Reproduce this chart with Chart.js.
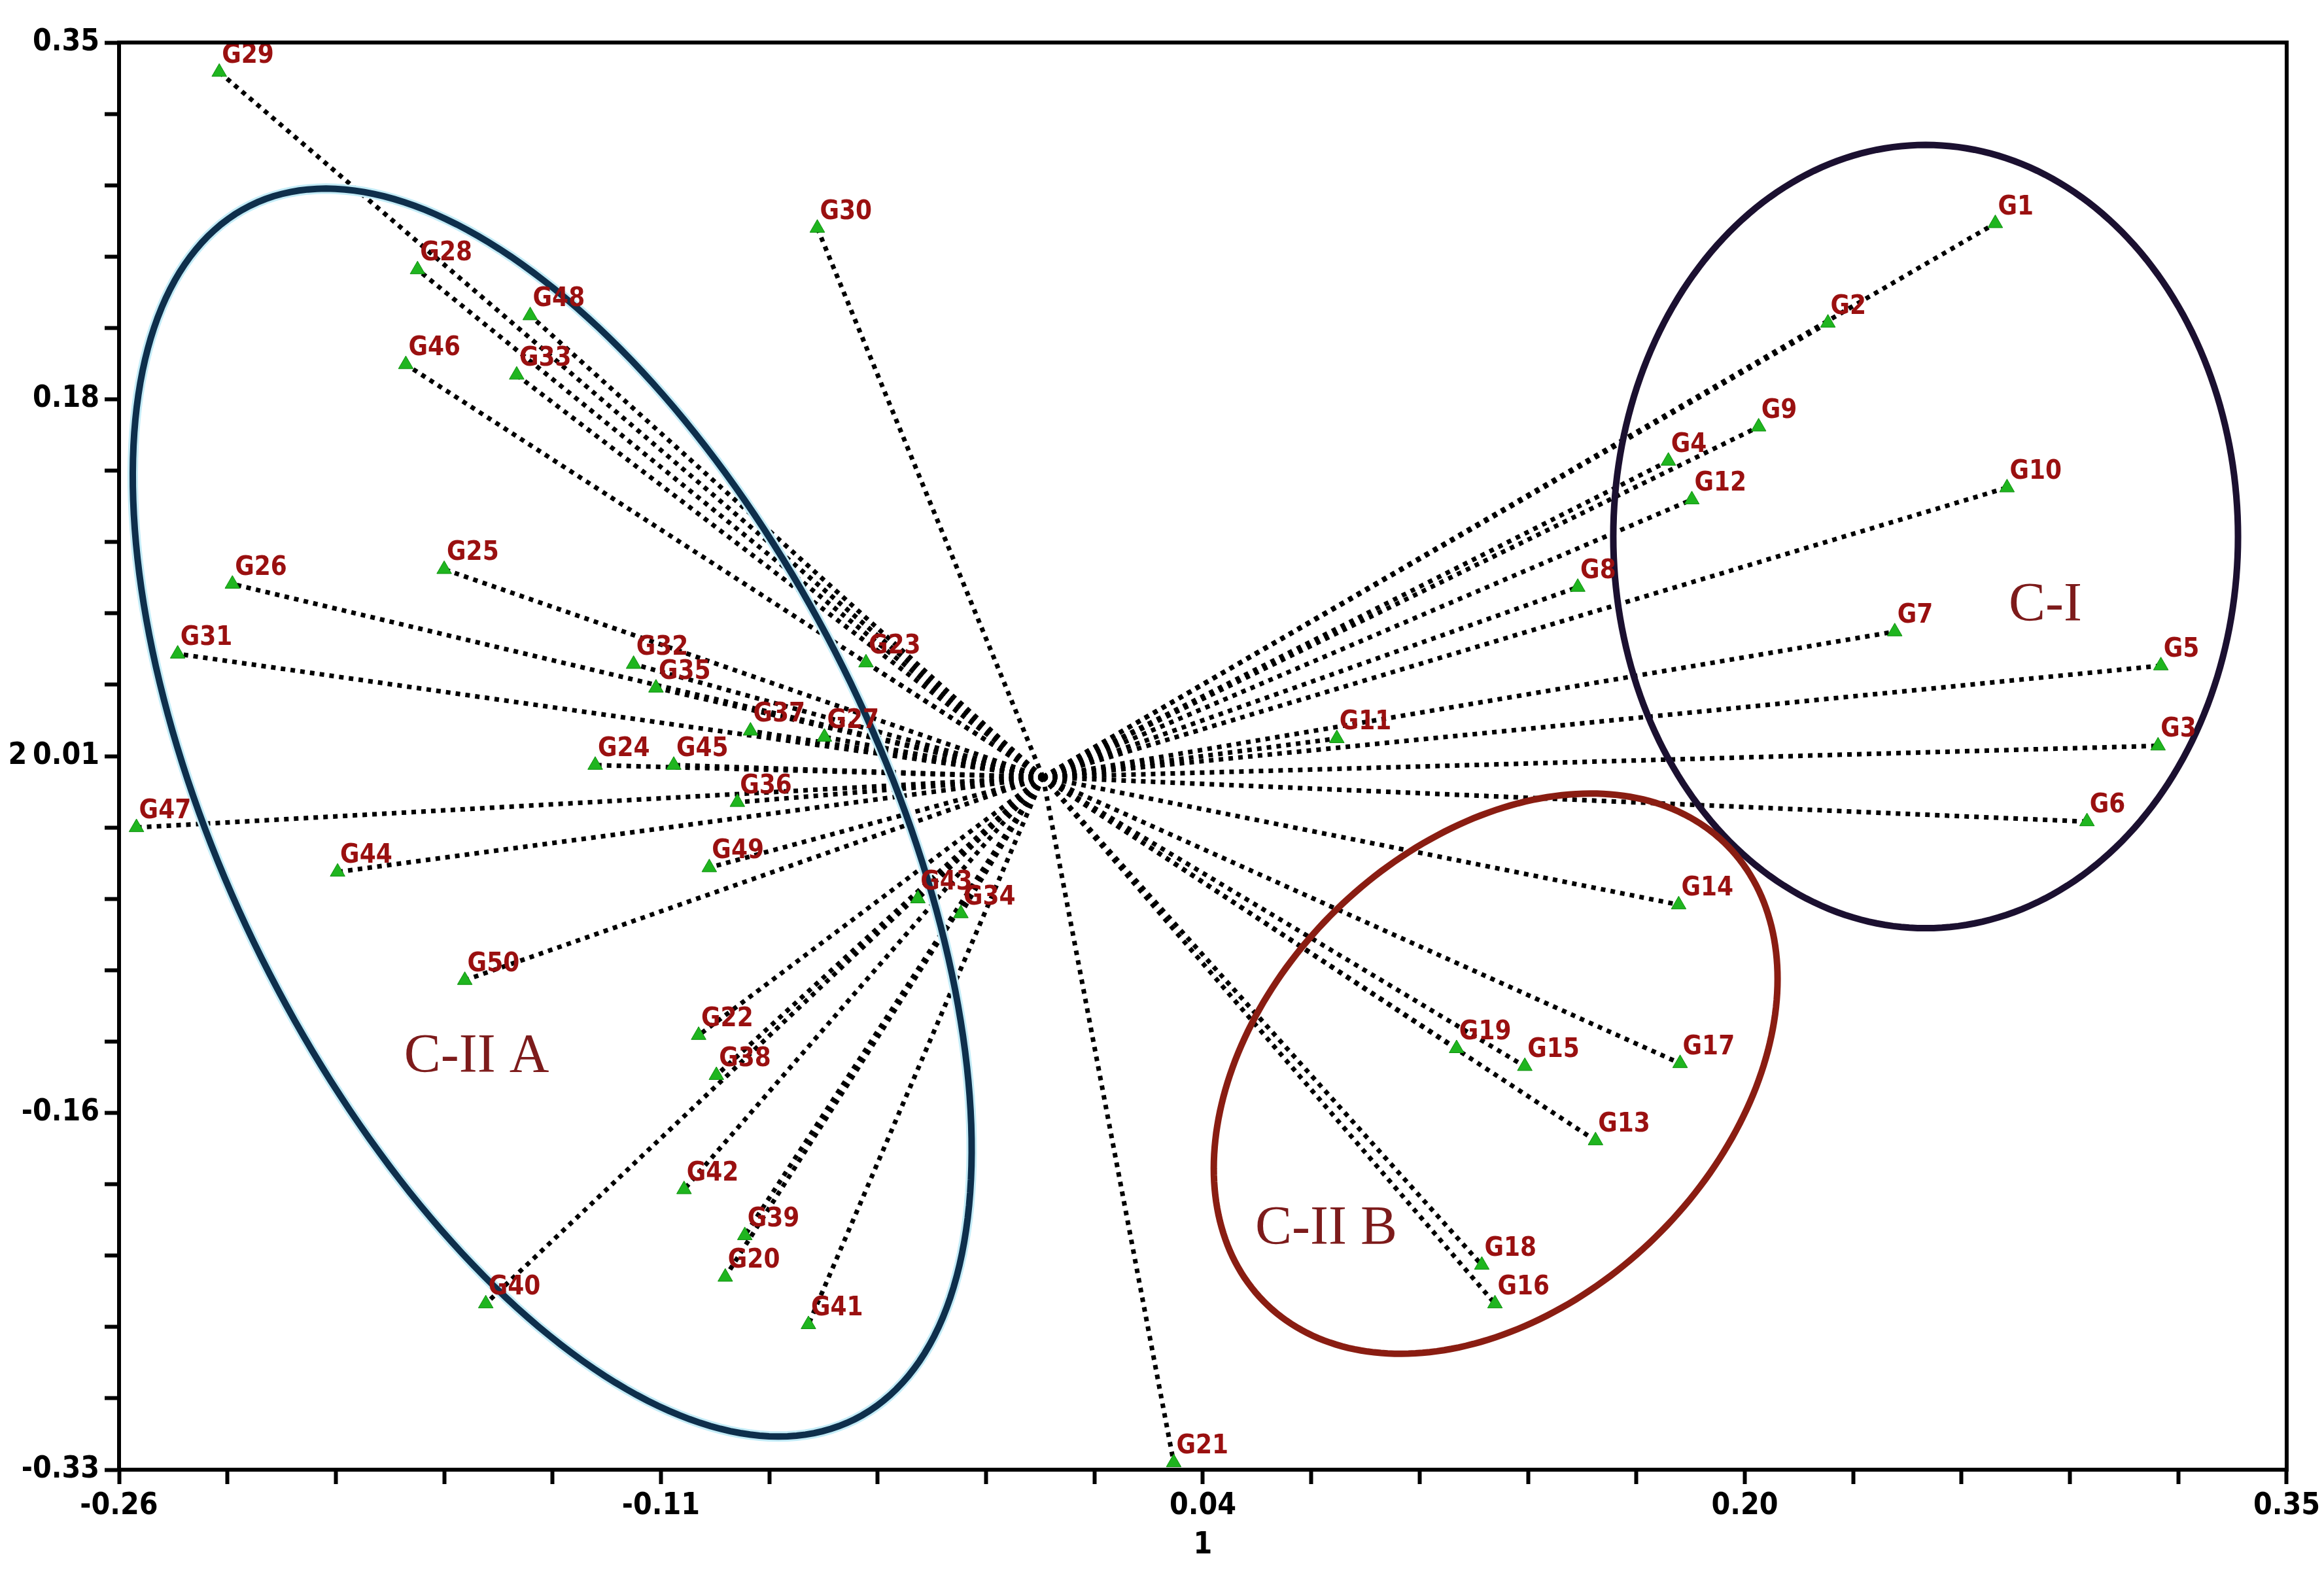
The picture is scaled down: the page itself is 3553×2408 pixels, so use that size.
<!DOCTYPE html>
<html>
<head>
<meta charset="utf-8">
<script src="https://cdn.jsdelivr.net/npm/chart.js@4.4.1/dist/chart.umd.min.js"></script>
<style>
  html, body { margin: 0; padding: 0; background: #fff; }
  #wrap { width: 3553px; height: 2408px; position: relative; }
</style>
</head>
<body>
<div id="wrap"><canvas id="biplot"></canvas></div>
<script>
/* ---------- data (PC1 = axis 1, PC2 = axis 2) ---------- */
const genotypes = [];
for (let i = 1; i <= 50; i++) genotypes.push("G" + i);

const pc1 = [
   0.2680,  0.2209,  0.3138,  0.1760,  0.3146,  0.2938,  0.2397,  0.1505,  0.2014,  0.2713,
   0.0827,  0.1826,  0.1555,  0.1789,  0.1356,  0.1272,  0.1793,  0.1235,  0.1164, -0.0894,
   0.0368, -0.0969, -0.0498, -0.1260, -0.1685, -0.2281, -0.0615, -0.1760, -0.2318, -0.0635,
  -0.2435, -0.1152, -0.1481, -0.0231, -0.1089, -0.0860, -0.0823, -0.0919, -0.0839, -0.1568,
  -0.0660, -0.1010, -0.0352, -0.1985, -0.1039, -0.1793, -0.2551, -0.1443, -0.0939, -0.1627
];
const pc2 = [
   0.2638,  0.2164,  0.0149,  0.1506,  0.0531, -0.0212,  0.0693,  0.0905,  0.1669,  0.1379,
   0.0184,  0.1322, -0.1732, -0.0608, -0.1378, -0.2509, -0.1364, -0.2325, -0.1293, -0.2382,
  -0.3266, -0.1230,  0.0545,  0.0057,  0.0990,  0.0920,  0.0191,  0.2418,  0.3359,  0.2616,
   0.0587,  0.0538,  0.1916, -0.0650,  0.0425, -0.0120,  0.0220, -0.1421, -0.2184, -0.2509,
  -0.2608, -0.1965, -0.0579, -0.0452,  0.0057,  0.1966, -0.0240,  0.2199, -0.0431, -0.0968
];

// axis ticks
const xMajorLabels = ["-0.26", "-0.11", "0.04", "0.20", "0.35"];
const yMajorLabels = ["-0.33", "-0.16", "0.01", "0.18", "0.35"];
const xRange = [-0.26, 0.35];
const yRange = [-0.33, 0.35];
const minorPerMajor = 5;

// cluster outlines (centre + two conjugate semi-axes, data units)
const clusterNames = ["C-I", "C-II A", "C-II B"];
const clusterCentres = [[0.2484, 0.1146], [-0.1381, -0.0169], [0.1274, -0.1413]];
const clusterAxisA = [[0.0879, 0], [0.0851, -0.2891], [0.0654, 0.1083]];
const clusterAxisB = [[0, 0.1866], [-0.0818, -0.0693], [0.0449, -0.0780]];
const clusterLabelPos = [[0.2821, 0.0813], [-0.1594, -0.1336], [0.0797, -0.2156]];

/* ---------- styles ---------- */
const clusterColors = ["#1b1030", "#0e2f4c", "#8a1d12"];
const tickFont = "'Liberation Sans Narrow', 'DejaVu Sans Condensed', sans-serif";

function buildTicks(range, labels) {
    const n = (labels.length - 1) * minorPerMajor;
    const step = (range[1] - range[0]) / n;
    const out = [];
    for (let i = 0; i <= n; i++) out.push({ value: range[0] + i * step });
    return out;
}

/* ---------- datasets ---------- */
const points = genotypes.map((g, i) => ({ x: pc1[i], y: pc2[i], label: g }));

const vectorSets = points.map((p) => ({
    data: [{ x: 0, y: 0 }, { x: p.x, y: p.y }],
    showLine: true,
    borderColor: "#000",
    borderWidth: 7,
    borderDash: [7, 8],
    pointRadius: 0,
    order: 2
}));

const pointSet = {
    data: points,
    pointStyle: "triangle",
    pointRadius: 13,
    backgroundColor: "#1fb51f",
    borderColor: "#0d8f0d",
    borderWidth: 1,
    order: 0
};

/* ---------- overlay: outlines, labels, frame ---------- */
const overlay = {
    id: "overlay",
    afterDatasetsDraw(chart) {
        const ctx = chart.ctx;
        const xs = chart.scales.x, ys = chart.scales.y;

        // cluster ellipses
        clusterCentres.forEach((c, k) => {
            const a = clusterAxisA[k], b = clusterAxisB[k];
            ctx.save();
            ctx.beginPath();
            for (let s = 0; s <= 240; s++) {
                const t = s / 240 * Math.PI * 2;
                const vx = c[0] + a[0] * Math.cos(t) + b[0] * Math.sin(t);
                const vy = c[1] + a[1] * Math.cos(t) + b[1] * Math.sin(t);
                const px = xs.getPixelForValue(vx), py = ys.getPixelForValue(vy);
                if (s === 0) ctx.moveTo(px, py); else ctx.lineTo(px, py);
            }
            ctx.closePath();
            if (k === 1) {
                ctx.strokeStyle = "#c4ecf7";
                ctx.lineWidth = 16;
                ctx.stroke();
            }
            ctx.strokeStyle = clusterColors[k];
            ctx.lineWidth = 10;
            ctx.stroke();
            ctx.restore();
        });

        // genotype labels
        const meta = chart.getDatasetMeta(chart.data.datasets.length - 1);
        ctx.save();
        ctx.font = "bold 40px " + tickFont;
        ctx.fillStyle = "#9a1010";
        ctx.textAlign = "left";
        ctx.textBaseline = "alphabetic";
        meta.data.forEach((el, i) => {
            ctx.fillText(points[i].label, el.x + 4, el.y - 14);
        });
        ctx.restore();

        // cluster names
        ctx.save();
        ctx.font = "84px 'Liberation Serif', 'DejaVu Serif', serif";
        ctx.fillStyle = "#7d1b1b";
        ctx.textAlign = "center";
        ctx.textBaseline = "middle";
        clusterLabelPos.forEach((p, k) => {
            ctx.fillText(clusterNames[k], xs.getPixelForValue(p[0]), ys.getPixelForValue(p[1]));
        });
        ctx.restore();
    },
    afterDraw(chart) {
        const ctx = chart.ctx, area = chart.chartArea;
        ctx.save();
        ctx.strokeStyle = "#000";
        ctx.lineWidth = 6;
        ctx.strokeRect(area.left, area.top, area.right - area.left, area.bottom - area.top);

        // axis titles
        ctx.fillStyle = "#000";
        ctx.font = "bold 46px " + tickFont;
        ctx.textAlign = "center";
        ctx.textBaseline = "middle";
        ctx.fillText("1", (area.left + area.right) / 2, 2363);
        ctx.fillText("2", 27, (area.top + area.bottom) / 2);
        ctx.restore();
    }
};

/* ---------- chart ---------- */
new Chart(document.getElementById("biplot"), {
    type: "scatter",
    data: { datasets: [...vectorSets, pointSet] },
    options: {
        responsive: true,
        maintainAspectRatio: false,
        devicePixelRatio: 1,
        animation: false,
        layout: { padding: { top: 65, right: 50, left: 0, bottom: 0 } },
        plugins: { legend: { display: false }, tooltip: { enabled: false } },
        scales: {
            x: {
                type: "linear",
                min: xRange[0],
                max: xRange[1],
                afterBuildTicks: (s) => { s.ticks = buildTicks(xRange, xMajorLabels); },
                afterFit: (s) => { s.height = 161; },
                ticks: {
                    autoSkip: false,
                    maxRotation: 0,
                    padding: 6,
                    color: "#000",
                    font: { family: tickFont, size: 46, weight: "bold" },
                    callback: (v, i) => (i % minorPerMajor === 0 ? xMajorLabels[i / minorPerMajor] : "")
                },
                grid: { drawOnChartArea: false, tickLength: 22, tickWidth: 6, tickColor: "#000" },
                border: { color: "#000", width: 6 }
            },
            y: {
                type: "linear",
                min: yRange[0],
                max: yRange[1],
                afterBuildTicks: (s) => { s.ticks = buildTicks(yRange, yMajorLabels); },
                afterFit: (s) => { s.width = 182; },
                ticks: {
                    autoSkip: false,
                    padding: 8,
                    color: "#000",
                    font: { family: tickFont, size: 46, weight: "bold" },
                    callback: (v, i) => (i % minorPerMajor === 0 ? yMajorLabels[i / minorPerMajor] : "")
                },
                grid: { drawOnChartArea: false, tickLength: 22, tickWidth: 6, tickColor: "#000" },
                border: { color: "#000", width: 6 }
            }
        }
    },
    plugins: [overlay]
});
</script>
</body>
</html>
